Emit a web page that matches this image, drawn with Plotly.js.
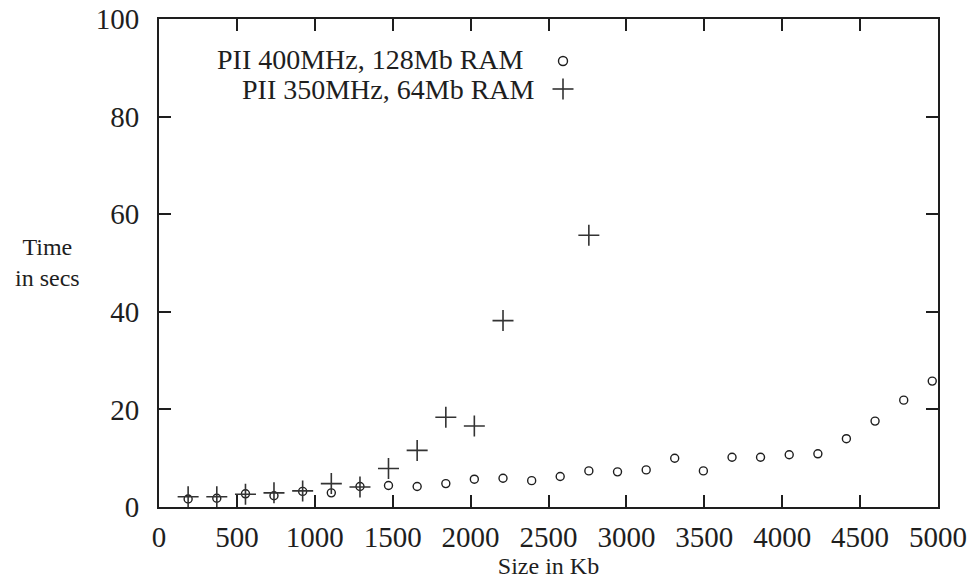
<!DOCTYPE html>
<html>
<head>
<meta charset="utf-8">
<script src="https://cdn.plot.ly/plotly-3.0.1.min.js"></script>
<style>html,body{margin:0;padding:0;background:#fff;}#chart{width:974px;height:586px;}</style>
</head>
<body>
<div id="chart"></div>
<script>
// Data
var sizeKb400 = [187, 371, 555, 738, 922, 1106, 1290, 1473, 1657, 1841, 2024, 2208, 2392, 2575, 2759, 2943, 3127, 3310, 3494, 3678, 3861, 4045, 4229, 4412, 4596, 4780, 4963];
var time400 = [1.65, 1.8, 2.7, 2.3, 3.2, 2.9, 4.2, 4.4, 4.2, 4.8, 5.7, 5.9, 5.4, 6.25, 7.4, 7.2, 7.6, 10.0, 7.4, 10.2, 10.2, 10.7, 10.9, 14.0, 17.6, 21.9, 25.8];
var sizeKb350 = [187, 371, 555, 738, 922, 1106, 1290, 1473, 1657, 1841, 2024, 2208, 2759];
var time350 = [2.1, 2.1, 2.6, 2.9, 3.3, 4.8, 4.1, 7.9, 11.6, 18.4, 16.6, 38.2, 55.7];
var seriesNames = ["PII 400MHz, 128Mb RAM", "PII 350MHz, 64Mb RAM"];
var xTickVals = [0, 500, 1000, 1500, 2000, 2500, 3000, 3500, 4000, 4500, 5000];
var yTickVals = [0, 20, 40, 60, 80, 100];
var yTitle = "Time<br>in secs";

var W = 974, H = 586;
var L = 159, R = 36, T = 19, B = 79;
var pw = W - L - R, ph = H - T - B;
function px(x){ return (x - L) / pw; }
function py(y){ return (H - B - y) / ph; }

var ink = '#1e1e1e';
var serif = 'Liberation Serif';

var traces = [
  {x: sizeKb400, y: time400, name: seriesNames[0], type: 'scatter', mode: 'markers',
   marker: {symbol: 'circle-open', size: 8, color: ink, line: {width: 1.4, color: ink}}},
  {x: sizeKb350, y: time350, name: seriesNames[1], type: 'scatter', mode: 'markers',
   marker: {symbol: 'cross-thin-open', size: 15, color: '#333', line: {width: 1.6, color: '#333'}}}
];

function axisBase(){
  return {
    showline: true, linewidth: 2, linecolor: ink, mirror: 'allticks',
    ticks: 'inside', ticklen: 12, tickwidth: 2, tickcolor: ink,
    showgrid: false, zeroline: false,
    tickfont: {family: serif, size: 29, color: ink}
  };
}

var layout = {
  width: W, height: H,
  font: {family: serif, color: ink},
  margin: {l: L, r: R, t: T, b: B, pad: 0},
  paper_bgcolor: '#fff', plot_bgcolor: '#fff',
  showlegend: false,
  xaxis: Object.assign(axisBase(), {
    range: [0, 5000], tickvals: xTickVals, ticklabelstandoff: 3,
    title: {text: 'Size in Kb', font: {family: serif, size: 24, color: ink}, standoff: 2}
  }),
  yaxis: Object.assign(axisBase(), {
    range: [0, 100], tickvals: yTickVals, ticklabelstandoff: 12
  }),
  annotations: [
    {xref: 'paper', yref: 'paper', x: px(47), y: py(262), xanchor: 'center', yanchor: 'middle',
     text: yTitle, showarrow: false, align: 'center', font: {family: serif, size: 24, color: ink}},
    {xref: 'paper', yref: 'paper', x: px(526), y: py(60), xanchor: 'right', yanchor: 'middle',
     text: seriesNames[0], showarrow: false, font: {family: serif, size: 28, color: ink}},
    {xref: 'paper', yref: 'paper', x: px(537), y: py(89), xanchor: 'right', yanchor: 'middle',
     text: seriesNames[1], showarrow: false, font: {family: serif, size: 28, color: ink}}
  ],
  shapes: [
    {type: 'circle', xref: 'paper', yref: 'paper', xsizemode: 'pixel', ysizemode: 'pixel',
     xanchor: px(563), yanchor: py(61), x0: -4.5, x1: 4.5, y0: -4.5, y1: 4.5,
     line: {color: ink, width: 1.4}},
    {type: 'line', xref: 'paper', yref: 'paper', xsizemode: 'pixel', ysizemode: 'pixel',
     xanchor: px(563), yanchor: py(89), x0: -10.5, x1: 10.5, y0: 0, y1: 0,
     line: {color: '#333', width: 1.6}},
    {type: 'line', xref: 'paper', yref: 'paper', xsizemode: 'pixel', ysizemode: 'pixel',
     xanchor: px(563), yanchor: py(89), x0: 0, x1: 0, y0: -10.5, y1: 10.5,
     line: {color: '#333', width: 1.6}}
  ]
};

Plotly.newPlot('chart', traces, layout, {displayModeBar: false, staticPlot: true});
</script>
</body>
</html>
